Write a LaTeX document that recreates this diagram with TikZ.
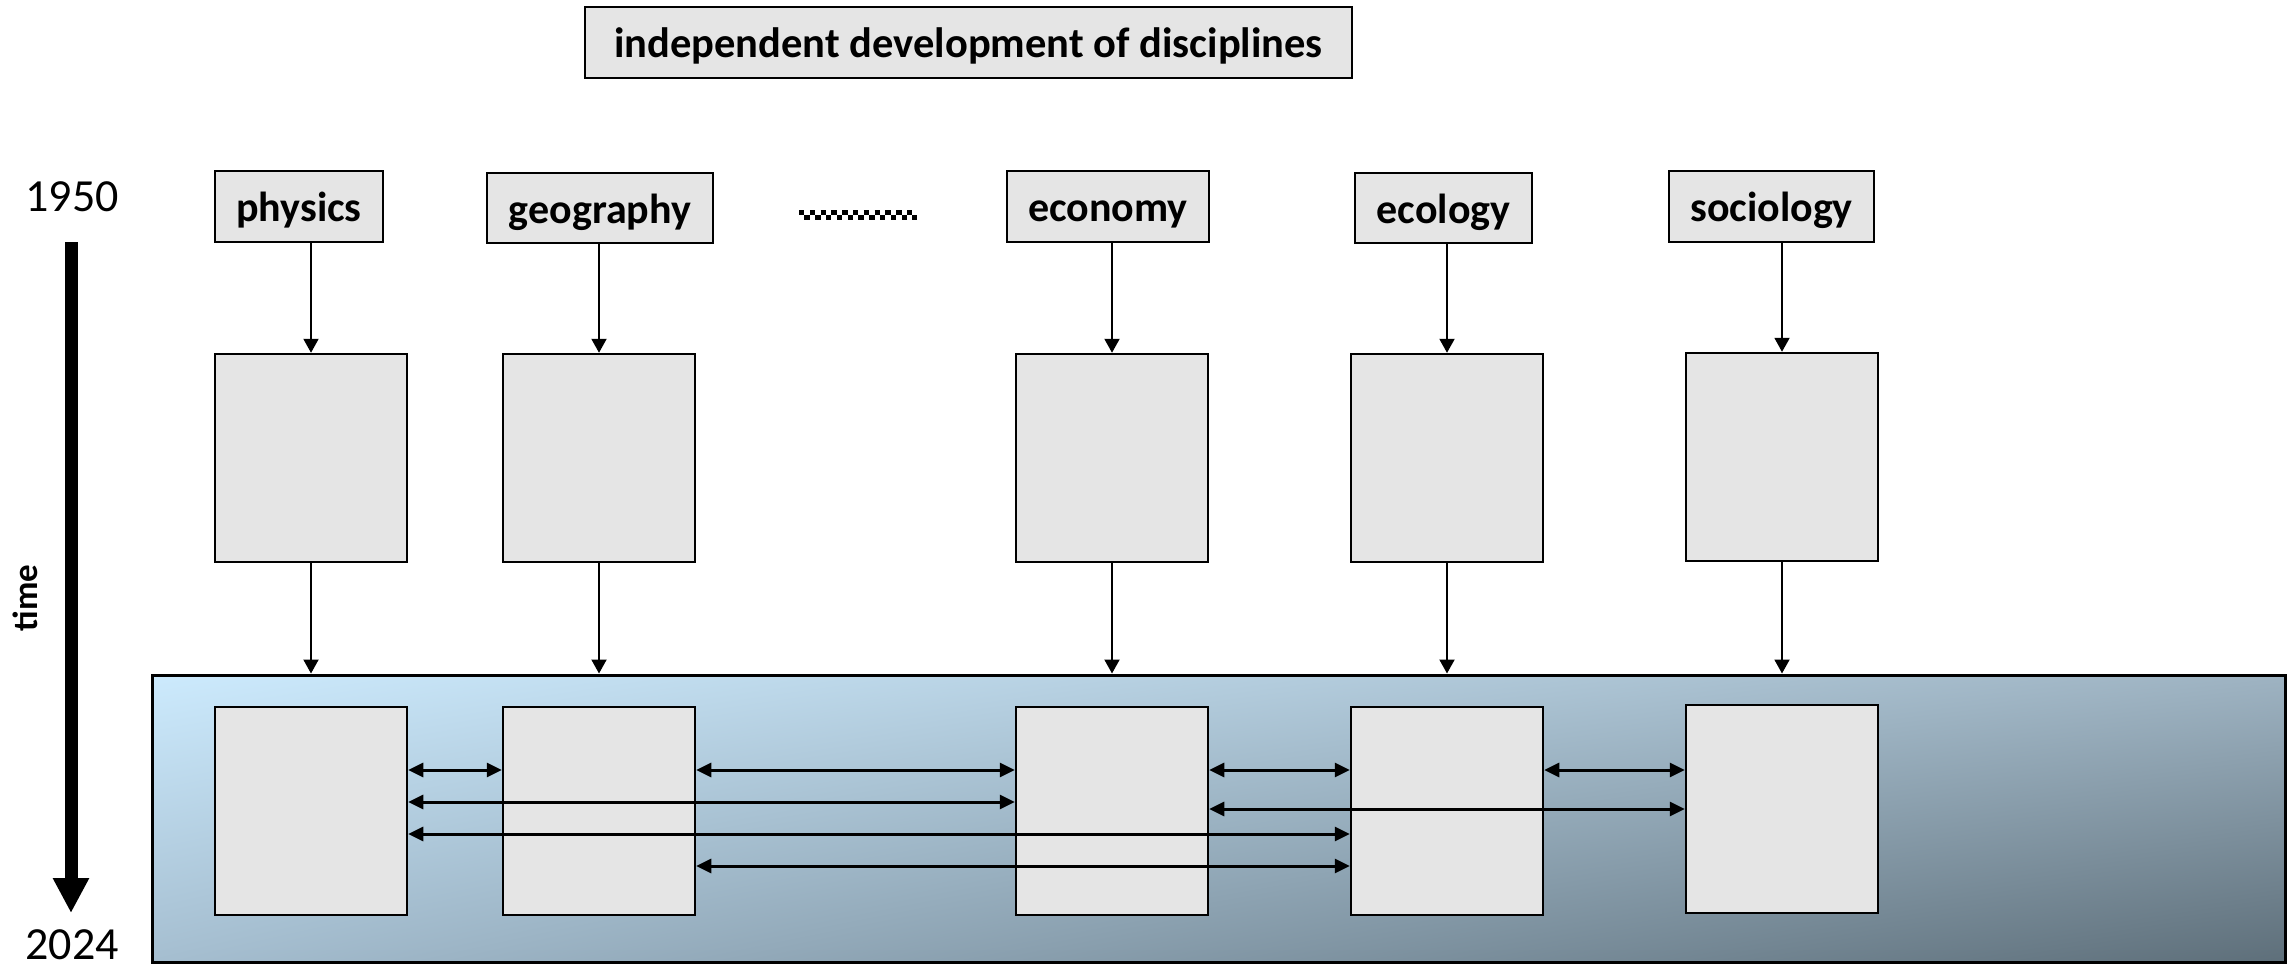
\documentclass[tikz,border=0pt]{standalone}
\usepackage{fontspec}
\setmainfont{Carlito}
\usetikzlibrary{arrows.meta,shadings}
\definecolor{boxgray}{HTML}{E5E5E5}
\definecolor{gUL}{HTML}{CCEAFD}
\definecolor{gUR}{HTML}{9EB3C2}
\definecolor{gLL}{HTML}{A5BED0}
\definecolor{gLR}{HTML}{5E6F7A}
\tikzset{
  lbl/.style={draw=black, line width=2.5pt, fill=boxgray, inner sep=0pt,
    text height=38pt, text depth=8pt,
    font=\fontsize{42}{50}\selectfont\bfseries},
  blank/.style={draw=black, line width=2.5pt, fill=boxgray, inner sep=0pt,
    minimum width=192pt, minimum height=208pt},
  varrow/.style={line width=2pt, -{Triangle[length=14pt,width=15pt]}},
  darrow/.style={line width=3pt, {Triangle[length=15pt,width=14pt]}-{Triangle[length=15pt,width=14pt]}},
  year/.style={inner sep=0pt, font=\fontsize{46}{54}\selectfont},
}
\begin{document}
\begin{tikzpicture}[x=1pt,y=-1pt]
\useasboundingbox (0,0) rectangle (2295,970);
% title
\node[lbl, font=\fontsize{42.5}{50}\selectfont\bfseries, minimum width=767pt, minimum height=71pt] (title) at (968.5,42.5) {independent development of disciplines};
% years and time arrow
\node[year] (y1950) at (72,197) {1950};
\node[year] (y2024) at (72,945) {2024};
\node[rotate=90, font=\fontsize{35}{42}\selectfont\bfseries] (time) at (25,598) {time};
\coordinate (tstart) at (71,242);
\coordinate (tend) at (71,913);
\draw[line width=13pt, -{Triangle[length=35pt,width=34pt]}] (tstart) -- (tend);
% top labels
\node[lbl, minimum width=168pt, minimum height=71pt] (phys) at (299,206.5) {physics};
\node[lbl, minimum width=226pt, minimum height=70pt] (geo) at (600,208) {geography};
\node[lbl, minimum width=202pt, minimum height=71pt] (eco) at (1108,206.5) {economy};
\node[lbl, minimum width=177pt, minimum height=70pt] (ecol) at (1443.5,208) {ecology};
\node[lbl, minimum width=205pt, minimum height=71pt] (soc) at (1771.5,206.5) {sociology};
% checkered ellipsis
\coordinate (d1) at (799,212.5);
\coordinate (d2) at (917,212.5);
\coordinate (d3) at (799,217.5);
\coordinate (d4) at (917,217.5);
\draw[line width=5pt, dash pattern=on 5.4pt off 5.4pt] (d1) -- (d2);
\draw[line width=5pt, dash pattern=on 5.4pt off 5.4pt, dash phase=5.4pt] (d3) -- (d4);
% middle boxes
\node[blank] (m1) at (311,458) {};
\node[blank] (m2) at (599,458) {};
\node[blank] (m3) at (1112,458) {};
\node[blank] (m4) at (1447,458) {};
\node[blank] (m5) at (1782,457) {};
% big shaded box
\node[draw=black, line width=3pt, minimum width=2133pt, minimum height=287pt, inner sep=0pt,
  upper left=gUL, upper right=gUR, lower left=gLL, lower right=gLR] (big) at (1218.5,818.5) {};
% bottom boxes
\node[blank] (b1) at (311,811) {};
\node[blank] (b2) at (599,811) {};
\node[blank] (b3) at (1112,811) {};
\node[blank] (b4) at (1447,811) {};
\node[blank] (b5) at (1782,809) {};
% vertical arrows
\draw[varrow] (phys.south -| m1) -- (m1.north);
\draw[varrow] (geo.south -| m2) -- (m2.north);
\draw[varrow] (eco.south -| m3) -- (m3.north);
\draw[varrow] (ecol.south -| m4) -- (m4.north);
\draw[varrow] (soc.south -| m5) -- (m5.north);
\draw[varrow] (m1.south) -- (m1.south |- big.north);
\draw[varrow] (m2.south) -- (m2.south |- big.north);
\draw[varrow] (m3.south) -- (m3.south |- big.north);
\draw[varrow] (m4.south) -- (m4.south |- big.north);
\draw[varrow] (m5.south) -- (m5.south |- big.north);
% exchange arrows
\coordinate (r1) at (0,770);
\coordinate (r2) at (0,802);
\coordinate (r3) at (0,809);
\coordinate (r4) at (0,834);
\coordinate (r5) at (0,866);
\draw[darrow] (b1.east |- r1) -- (b2.west |- r1);
\draw[darrow] (b2.east |- r1) -- (b3.west |- r1);
\draw[darrow] (b3.east |- r1) -- (b4.west |- r1);
\draw[darrow] (b4.east |- r1) -- (b5.west |- r1);
\draw[darrow] (b1.east |- r2) -- (b3.west |- r2);
\draw[darrow] (b3.east |- r3) -- (b5.west |- r3);
\draw[darrow] (b1.east |- r4) -- (b4.west |- r4);
\draw[darrow] (b2.east |- r5) -- (b4.west |- r5);
\end{tikzpicture}
\end{document}
